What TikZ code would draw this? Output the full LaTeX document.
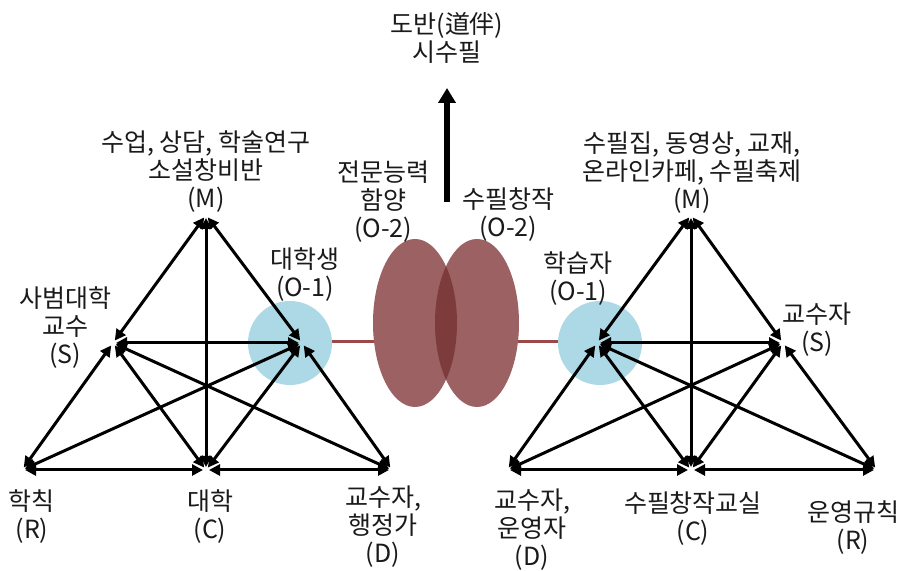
\documentclass[tikz,border=0pt]{standalone}
\usepackage{fontspec}
\setmainfont{Noto Sans CJK KR}
\usepackage{xcolor}
\definecolor{bg}{HTML}{FFFFFF}
\definecolor{learner}{HTML}{ADD8E6}
\definecolor{goal}{HTML}{9C6162}
\definecolor{goaldark}{HTML}{7E3B3B}
\definecolor{link}{HTML}{9B4848}
\definecolor{textprimary}{HTML}{1A1A1A}
\usepackage{tikz}
\usetikzlibrary{positioning,arrows.meta,shapes.geometric}

\begin{document}
\begin{tikzpicture}[
  x=0.5pt,y=-0.5pt,
  lbl/.style={font=\fontsize{12.5}{14}\selectfont,text=textprimary,
    align=center,inner sep=0pt},
  dbl/.style={{Triangle[length=5.5pt,width=5.5pt]}-{Triangle[length=5.5pt,width=5.5pt]},
    line width=1.5pt,shorten >=1.5pt,shorten <=1.5pt},
  blob/.style={circle,fill=learner,minimum size=42pt,inner sep=0pt},
  oval/.style={ellipse,fill=goal,minimum width=42pt,minimum height=84pt,inner sep=0pt},
  tie/.style={color=link,line width=1.5pt}
]
  \useasboundingbox[fill=bg] (0,0) rectangle (902,571);

  % vertices, left triangle
  \coordinate (lM) at (206,215);
  \coordinate (lS) at (113,343);
  \coordinate (lO) at (302,343);
  \coordinate (lR) at (22,470);
  \coordinate (lC) at (206,470);
  \coordinate (lD) at (392,470);
  % vertices, right triangle
  \coordinate (rM) at (691,215);
  \coordinate (rO) at (597,343);
  \coordinate (rS) at (783,343);
  \coordinate (rD) at (507,470);
  \coordinate (rC) at (691,470);
  \coordinate (rR) at (877,470);

  % outcome ovals and learner circles
  \draw[tie] (290,342) -- (415,342);
  \draw[tie] (477,342) -- (600,342);
  \node[oval] (lell) at (415,323) {};
  \node[oval] (rell) at (477,323) {};
  \begin{scope}
    \clip (415,323) ellipse [x radius=21pt,y radius=42pt];
    \fill[goaldark] (477,323) ellipse [x radius=21pt,y radius=42pt];
  \end{scope}
  \node[blob] (lcirc) at (290,343) {};
  \node[blob] (rcirc) at (600,343) {};

  % left activity system
  \draw[dbl] (lM) -- (lS);
  \draw[dbl] (lM) -- (lC);
  \draw[dbl] (lM) -- (lO);
  \draw[dbl] (lS) -- (lO);
  \draw[dbl] (lS) -- (lR);
  \draw[dbl] (lS) -- (lC);
  \draw[dbl] (lS) -- (lD);
  \draw[dbl] (lO) -- (lR);
  \draw[dbl] (lO) -- (lC);
  \draw[dbl] (lO) -- (lD);
  \draw[dbl] (lR) -- (lC);
  \draw[dbl] (lC) -- (lD);

  % right activity system
  \draw[dbl] (rM) -- (rO);
  \draw[dbl] (rM) -- (rC);
  \draw[dbl] (rM) -- (rS);
  \draw[dbl] (rO) -- (rS);
  \draw[dbl] (rO) -- (rD);
  \draw[dbl] (rO) -- (rC);
  \draw[dbl] (rO) -- (rR);
  \draw[dbl] (rS) -- (rD);
  \draw[dbl] (rS) -- (rC);
  \draw[dbl] (rS) -- (rR);
  \draw[dbl] (rD) -- (rC);
  \draw[dbl] (rC) -- (rR);

  % upward arrow
  \coordinate (upbase) at (447,202);
  \coordinate (uptip) at (447,88);
  \node[lbl] (top) at (447,38) {도반(道伴)\\시수필};
  \draw[-{Triangle[length=7.5pt,width=8.5pt]},line width=3pt] (upbase) -- (uptip);

  % labels
  \node[lbl] at (206,172) {수업, 상담, 학술연구\\소설창비반\\(M)};
  \node[lbl] at (305,275) {대학생\\(O-1)};
  \node[lbl] at (65,328) {사범대학\\교수\\(S)};
  \node[lbl] at (32,517) {학칙\\(R)};
  \node[lbl] at (210,517) {대학\\(C)};
  \node[lbl] at (383,527) {교수자,\\행정가\\(D)};
  \node[lbl] at (383,202) {전문능력\\함양\\(O-2)};
  \node[lbl] at (508,215) {수필창작\\(O-2)};
  \node[lbl] at (692,173) {수필집, 동영상, 교재,\\온라인카페, 수필축제\\(M)};
  \node[lbl] at (578,279) {학습자\\(O-1)};
  \node[lbl] at (817,330) {교수자\\(S)};
  \node[lbl] at (532,530) {교수자,\\운영자\\(D)};
  \node[lbl] at (693,519) {수필창작교실\\(C)};
  \node[lbl] at (853,528) {운영규칙\\(R)};
\end{tikzpicture}
\end{document}
